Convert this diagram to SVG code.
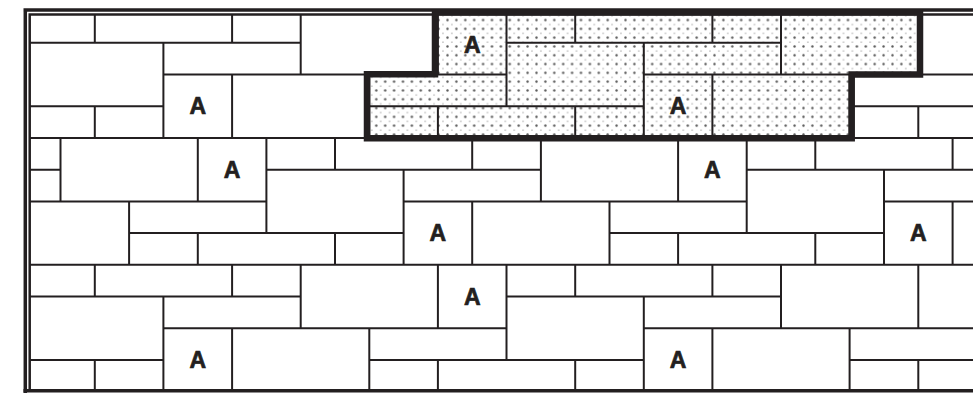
<svg xmlns="http://www.w3.org/2000/svg" xmlns:xlink="http://www.w3.org/1999/xlink" width="973" height="393" viewBox="0 0 973 393">
  <style>
    .joint { fill: none; stroke: #231f20; stroke-width: 2; stroke-linecap: butt; }
    .frame { fill: none; stroke: #231f20; }
    .edge { fill: none; stroke: #231f20; stroke-width: 6.5; stroke-linejoin: miter; }
    .lbl { font-family: "Liberation Sans", Arial, sans-serif; font-weight: bold; font-size: 23px; fill: #231f20; stroke: #231f20; stroke-width: 0.7; text-anchor: middle; }
  </style>
  <defs>
    <pattern id="dots" patternUnits="userSpaceOnUse" x="0" y="0" width="8.9" height="8.8">
      <circle cx="2.5" cy="2.5" r="1.2" fill="#5a5a5a"/>
      <circle cx="6.9" cy="6.9" r="0.65" fill="#7a7a7a"/>
    </pattern>
    <clipPath id="inside">
      <rect x="29.5" y="14.5" width="944" height="376"/>
    </clipPath>
  </defs>
  <rect x="0" y="0" width="973" height="393" fill="#ffffff"/>

  <g id="hatched-area-fill">
    <polygon points="437.9,11 918.3,11 918.3,74.5 849.6,74.5 849.6,137.9 369.3,137.9 369.3,74.5 437.9,74.5" fill="url(#dots)"/>
  </g>

  <g id="joints" clip-path="url(#inside)">
    <g id="band-a" class="joint">
      <path d="M94.8 11V42.7M94.8 106.2V137.9M163.4 42.7V137.9M232.1 11V42.7M232.1 74.5V137.9M300.7 11V74.5M369.3 74.5V137.9M437.9 11V74.5M437.9 106.2V137.9M506.5 11V106.2M575.2 11V42.7M575.2 106.2V137.9M643.8 42.7V137.9M712.4 11V42.7M712.4 74.5V137.9M781 11V74.5M849.6 74.5V137.9M918.3 11V74.5M918.3 106.2V137.9"/>
      <path d="M26 42.7H300.7M506.5 42.7H781M163.4 74.5H506.5M643.8 74.5H987M26 106.2H163.4M369.3 106.2H643.8M849.6 106.2H987"/>
    </g>
    <use xlink:href="#band-a" href="#band-a" transform="translate(0,253.8)"/>
    <g id="band-b" class="joint">
      <path d="M60.5 137.9V201.4M129.1 201.4V264.8M197.8 137.9V201.4M197.8 233.1V264.8M266.4 137.9V233.1M335 137.9V169.7M335 233.1V264.8M403.6 169.7V264.8M472.2 137.9V169.7M472.2 201.4V264.8M540.9 137.9V201.4M609.5 201.4V264.8M678.1 137.9V201.4M678.1 233.1V264.8M746.7 137.9V233.1M815.3 137.9V169.7M815.3 233.1V264.8M884 169.7V264.8M952.6 137.9V169.7M952.6 201.4V264.8"/>
      <path d="M26 137.9H987M26 169.7H60.5M266.4 169.7H540.9M746.7 169.7H987M26 201.4H266.4M403.6 201.4H746.7M884 201.4H987M129.1 233.1H403.6M609.5 233.1H884M26 264.8H987"/>
    </g>
  </g>

  <g id="frame" class="frame">
    <path d="M25.3 8.3V393M23.5 10H973" stroke-width="3.5"/>
    <path d="M29.7 13.3V391M28.5 14.5H973" stroke-width="2.5"/>
    <path d="M23.5 390.8H973" stroke-width="3.5"/>
  </g>

  <g id="hatched-area-edge">
    <polygon class="edge" points="435,12.3 920,12.3 920,74.5 851.7,74.5 851.7,138.3 367,138.3 367,74.2 435,74.2"/>
  </g>

  <g id="labels">
    <g id="a1"><text class="lbl" x="472.2" y="52.9">A</text></g>
    <g id="a2"><text class="lbl" x="197.8" y="114.4">A</text></g>
    <g id="a3"><text class="lbl" x="678.1" y="114.4">A</text></g>
    <g id="a4"><text class="lbl" x="232.1" y="177.9">A</text></g>
    <g id="a5"><text class="lbl" x="712.4" y="177.9">A</text></g>
    <g id="a6"><text class="lbl" x="437.9" y="241.3">A</text></g>
    <g id="a7"><text class="lbl" x="918.3" y="241.3">A</text></g>
    <g id="a8"><text class="lbl" x="472.2" y="304.8">A</text></g>
    <g id="a9"><text class="lbl" x="197.8" y="368.2">A</text></g>
    <g id="a10"><text class="lbl" x="678.1" y="368.2">A</text></g>
  </g>
</svg>
